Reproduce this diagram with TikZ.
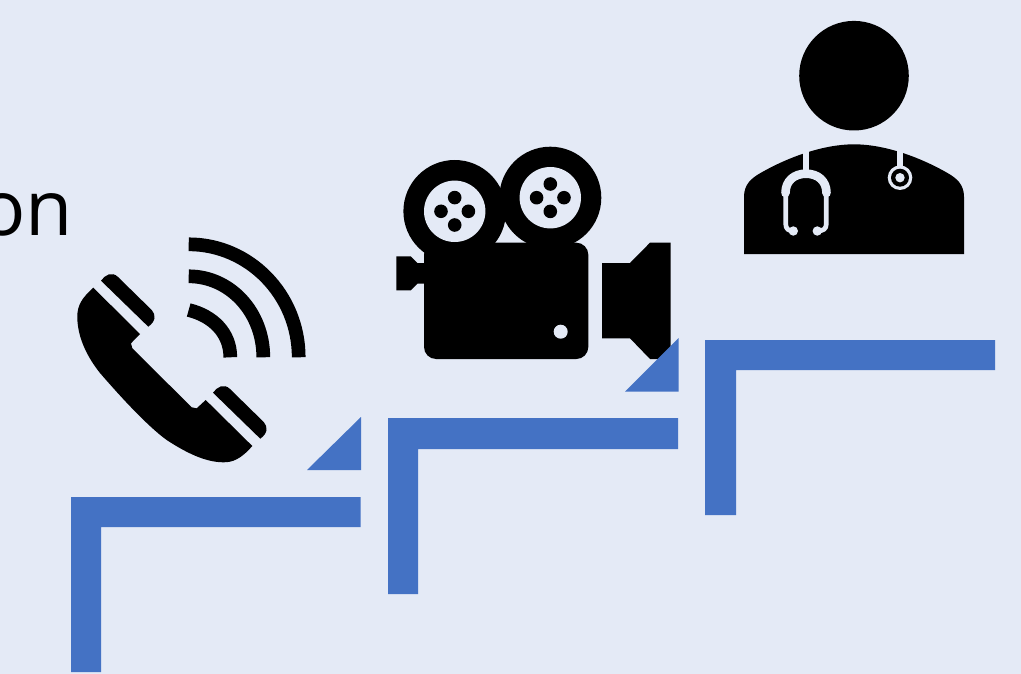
\documentclass[tikz,border=0pt]{standalone}
\usepackage{fontspec}
\setmainfont{Open Sans}
\definecolor{PageBlue}{RGB}{228,234,246}
\definecolor{StairBlue}{RGB}{68,114,196}
\tikzset{
  stair/.style={fill=StairBlue},
  icon/.style={fill=black},
  gap/.style={fill=PageBlue},
  wave/.style={draw=black,line width=13.7pt},
  tube/.style={draw=PageBlue,line width=6.7pt},
  tubewide/.style={draw=PageBlue,line width=8.6pt,line cap=round},
  tubethin/.style={draw=PageBlue,line width=4.7pt},
}
\begin{document}
\begin{tikzpicture}[x=1pt,y=-1pt]
\useasboundingbox (0,0) rectangle (1021,674);
\fill[gap] (0,0) rectangle (1021,674);
\node[anchor=base east,inner sep=0pt,font=\fontsize{77}{80}\selectfont] (word) at (73,235.7) {on};
% phone
\fill[icon] (93.3,287.7) -- (140,334) -- (131,343.3) -- (132.3,348.3) -- (191.7,407.3) -- (196.7,408.3) -- (205.7,400) -- (252.3,446)
  .. controls (240,460) and (232,462.3) .. (223.3,462.3)
  .. controls (205,462.3) and (185,452) .. (166.7,440)
  .. controls (150,428) and (125,402) .. (100,373)
  .. controls (88,358) and (77.3,338) .. (77.3,316.7)
  .. controls (77.3,305) and (82,298) .. cycle;
\foreach \d in {0,112} {
  \fill[icon,shift={(\d,\d)}] (101,280.7) .. controls (105,275) and (112,271) .. (118,277) -- (151.7,310) .. controls (156,315) and (156,321) .. (148.3,326.7) -- cycle;
}
\draw[wave] (188.7,244.3) .. controls (249.4,244.3) and (298.7,295) .. (298.7,357.3);
\draw[wave] (188.7,276.3) .. controls (230,276.3) and (263.3,312) .. (263.3,357.3);
\draw[wave] (188.7,310) .. controls (213,316) and (230.3,333) .. (230.3,357.3);
% camera
\fill[icon] (454.7,211.3) circle[radius=51.3];
\fill[icon] (550.3,197.7) circle[radius=51];
\fill[icon,rounded corners=12pt] (424,242.7) rectangle (588.3,359);
\fill[icon] (396.3,256.3) -- (410.7,256.3) -- (417.3,263) -- (424,263) -- (424,283.7) -- (417.3,283.7) -- (410.7,290.3) -- (396.3,290.3) -- cycle;
\fill[icon] (602,263) -- (630,263) -- (650,242.7) -- (670.7,242.7) -- (670.7,359) -- (650,359) -- (630,338.3) -- (602,338.3) -- cycle;
\foreach \cx/\cy in {454.7/211.3,550.3/197.7} {
  \fill[gap] (\cx,\cy) circle[radius=30.7];
  \foreach \ox/\oy in {13.7/0,-13.7/0,0/13.7,0/-13.7} {
    \fill[icon] (\cx+\ox,\cy+\oy) circle[radius=6.8];
  }
}
\fill[gap] (560.7,331.7) circle[radius=7];
% doctor
\fill[icon] (854,75.7) circle[radius=54.8];
\fill[icon] (744,254) -- (744,196.7) .. controls (744,184) and (752,178) .. (760,173.3)
  .. controls (790,156) and (825,144.3) .. (854,144.3)
  .. controls (883,144.3) and (918,156) .. (948,173.3)
  .. controls (956,178) and (964,184) .. (964,196.7) -- (964,254) -- cycle;
\draw[tube] (806,146) -- (806,172);
\draw[tubewide] (785.5,193) .. controls (785.5,181) and (794,173.7) .. (806,173.7) .. controls (818,173.7) and (826.5,181) .. (826.5,193);
\draw[tubethin] (785.7,192) -- (785.7,224) .. controls (785.7,229) and (789,231) .. (793.3,231);
\draw[tubethin] (826.3,192) -- (826.3,224) .. controls (826.3,229) and (823,231) .. (817.3,231);
\fill[gap] (793.3,231) circle[radius=4.7];
\fill[gap] (817.3,231) circle[radius=4.7];
\draw[tube] (900,146) -- (900,168);
\fill[gap] (900,177.7) circle[radius=12.3];
\fill[icon] (900,177.7) circle[radius=9];
\fill[gap] (900,177.7) circle[radius=4.7];
% stairs
\fill[stair] (71,672) -- (71,497) -- (360.5,497) -- (360.5,527) -- (101,527) -- (101,672) -- cycle;
\fill[stair] (388,594) -- (388,418) -- (678,418) -- (678,449) -- (418,449) -- (418,594) -- cycle;
\fill[stair] (705,515) -- (705,340) -- (995,340) -- (995,370) -- (736,370) -- (736,515) -- cycle;
\fill[stair] (361,417) -- (361,470) -- (307,470) -- cycle;
\fill[stair] (678.5,338) -- (678.5,391.5) -- (625,391.5) -- cycle;
\end{tikzpicture}
\end{document}
